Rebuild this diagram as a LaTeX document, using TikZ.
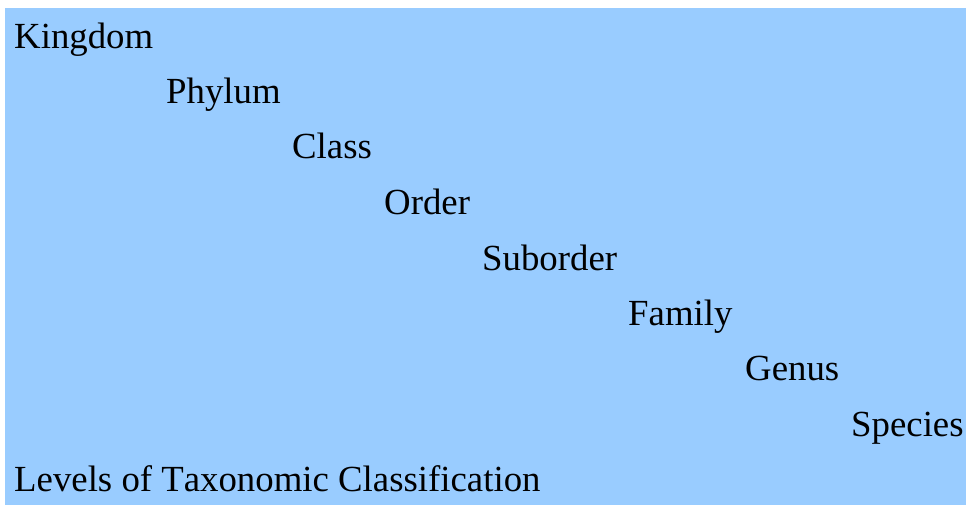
\documentclass[tikz,border=0pt]{standalone}
\usepackage{fontspec}
\setmainfont[Ligatures=NoCommon, Kerning=Off]{Liberation Serif}
\usepackage{xcolor}
\usepackage{tikz}
\usetikzlibrary{positioning}
\definecolor{skyfill}{HTML}{99CCFF}
\tikzset{
    level/.style={anchor=base west, inner sep=0pt, font=\fontsize{36.8}{40}\selectfont}
}

\begin{document}
\begin{tikzpicture}[x=1pt, y=-1pt]
    \useasboundingbox (0,0) rectangle (966,507);
    % Background panel
    \fill[skyfill] (5,8) rectangle (966,505);

    % Ranks, stepping down
    \node[level] (kingdom) at (14,48) {Kingdom};
    \node[level] (phylum) at (166,103) {Phylum};
    \node[level] (class) at (292,158) {Class};
    \node[level] (order) at (384,214) {Order};
    \node[level] (suborder) at (482,270) {Suborder};
    \node[level] (family) at (628,325) {Family};
    \node[level] (genus) at (745,380) {Genus};
    \node[level] (species) at (851,436) {Species};

    % Caption
    \node[level] (caption) at (14,491) {Levels of Taxonomic Classification};
\end{tikzpicture}
\end{document}
